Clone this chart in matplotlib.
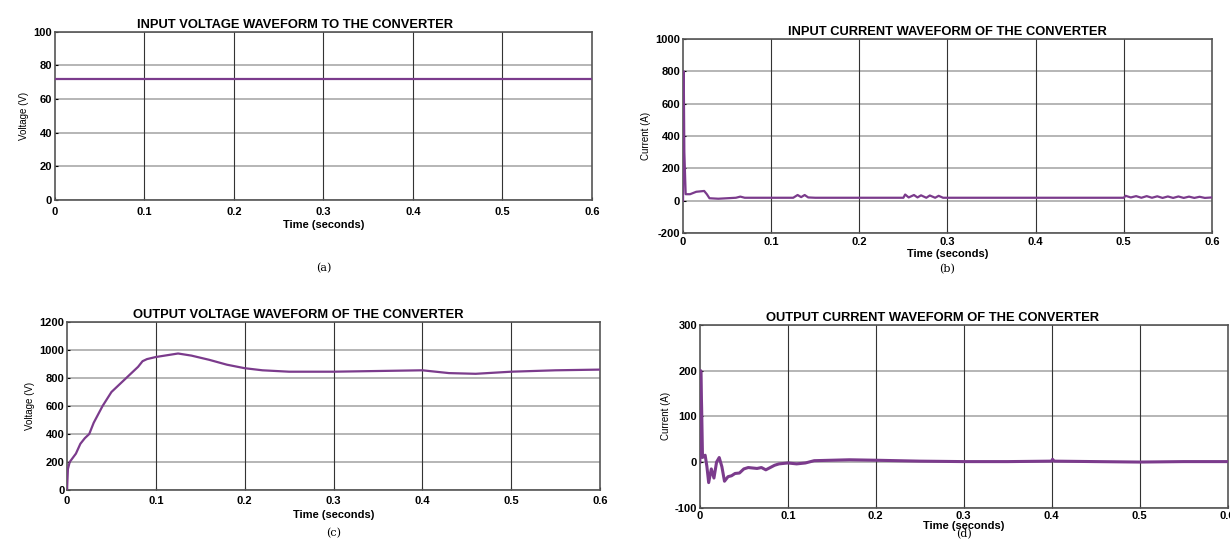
import numpy as np
import matplotlib
matplotlib.use("Agg")
import matplotlib.pyplot as plt

# input voltage (a)
vin_t = [0.0, 0.6]
vin_v = [72, 72]

# input current (b)
iin_t = [0.0, 0.0008, 0.0015, 0.003, 0.008, 0.015, 0.024, 0.027, 0.03, 0.04, 0.06, 0.065, 0.07,
         0.08, 0.125, 0.13, 0.134, 0.138, 0.142, 0.15, 0.25, 0.252, 0.256, 0.262, 0.266, 0.27,
         0.276, 0.28, 0.286, 0.29, 0.295, 0.5, 0.502, 0.508, 0.514, 0.52, 0.526, 0.532, 0.538,
         0.544, 0.55, 0.556, 0.562, 0.568, 0.574, 0.58, 0.586, 0.592, 0.6]
iin_v = [0, 800, 300, 40, 40, 55, 60, 40, 15, 12, 18, 25, 18,
         18, 18, 35, 22, 35, 20, 18, 18, 38, 20, 35, 20, 33, 18, 32, 18, 30, 18, 18, 30, 20, 28,
         18, 28, 18, 27, 17, 26, 17, 26, 17, 25, 17, 24, 17, 20]

# output voltage (c)
vout_t = [0.0, 0.001, 0.003, 0.01, 0.015, 0.02, 0.025, 0.03, 0.04, 0.05, 0.06, 0.07, 0.08,
          0.085, 0.09, 0.1, 0.11, 0.125, 0.14, 0.16, 0.18, 0.2, 0.22, 0.25, 0.3, 0.35, 0.4,
          0.43, 0.46, 0.5, 0.55, 0.6]
vout_v = [0, 150, 200, 260, 330, 370, 400, 480, 600, 700, 760, 820, 880,
          920, 935, 950, 960, 975, 960, 930, 895, 870, 855, 845, 845, 850, 855,
          835, 830, 845, 855, 860]

# output current (d)
iout_t = [0.0, 0.001, 0.002, 0.003, 0.006, 0.008, 0.01, 0.013, 0.016, 0.019, 0.022, 0.025,
          0.028, 0.032, 0.036, 0.04, 0.045, 0.05, 0.055, 0.06, 0.065, 0.07, 0.075, 0.08, 0.085,
          0.09, 0.1, 0.11, 0.12, 0.13, 0.15, 0.17, 0.2, 0.25, 0.3, 0.35, 0.4, 0.401, 0.403,
          0.45, 0.5, 0.55, 0.6]
iout_v = [0, 200, 120, 10, 15, -10, -45, -15, -35, 0, 10, -10,
          -42, -32, -30, -25, -24, -15, -12, -13, -14, -12, -17, -12, -7,
          -4, -2, -4, -2, 3, 4, 5, 4, 2, 1, 1, 2, 6, 2,
          1, 0, 1, 1]

line_color = "#7b3b8c"

plt.rcParams["font.family"] = "Liberation Sans"
plt.rcParams["axes.unicode_minus"] = False

fig = plt.figure(figsize=(12.3, 5.39), dpi=100)

panels = [
    # rect, t, y, ylim, yticks, title, title_x, ylabel, tag, tag_y, tick pad, label pad
    ([0.0447, 0.629, 0.4366, 0.312], vin_t, vin_v, (0, 100), np.arange(0, 101, 20),
     "INPUT VOLTAGE WAVEFORM TO THE CONVERTER", 0.447, "Voltage (V)", "(a)", 268, 5, 2),
    ([0.5553, 0.5677, 0.430, 0.36], iin_t, iin_v, (-200, 1000), np.arange(-200, 1001, 200),
     "INPUT CURRENT WAVEFORM OF THE CONVERTER", 0.5, "Current (A)", "(b)", 269, 3, 1),
    ([0.0545, 0.0909, 0.4333, 0.3117], vout_t, vout_v, (0, 1200), np.arange(0, 1201, 200),
     "OUTPUT VOLTAGE WAVEFORM OF THE CONVERTER", 0.433, "Voltage (V)", "(c)", 533, 4, 3),
    ([0.569, 0.058, 0.429, 0.339], iout_t, iout_v, (-100, 300), np.arange(-100, 301, 100),
     "OUTPUT CURRENT WAVEFORM OF THE CONVERTER", 0.44, "Current (A)", "(d)", 534, 2, 0),
]

for rect, t, y, ylim, yticks, title, title_x, ylabel, tag, tag_y, tpad, lpad in panels:
    ax = fig.add_axes(rect)
    lw = 2.2 if tag == "(d)" else 1.6
    ax.plot(t, y, color=line_color, linewidth=lw, zorder=3)
    ax.set_xlim(0, 0.6)
    ax.set_ylim(*ylim)
    ax.set_xticks([0, 0.1, 0.2, 0.3, 0.4, 0.5, 0.6])
    ax.set_xticklabels(["0", "0.1", "0.2", "0.3", "0.4", "0.5", "0.6"])
    ax.set_yticks(yticks)
    for yt in yticks:
        ax.axhline(yt, color="#b5b5b5", linewidth=1.4, zorder=1)
    for xt in [0.1, 0.2, 0.3, 0.4, 0.5]:
        ax.axvline(xt, color="#333333", linewidth=0.8, zorder=2)
    ax.tick_params(labelsize=8, length=2, direction="in")
    ax.tick_params(axis="x", pad=tpad)
    ax.tick_params(axis="y", pad=2)
    for lab in ax.get_xticklabels() + ax.get_yticklabels():
        lab.set_fontweight("bold")
    for s in ax.spines.values():
        s.set_linewidth(1.2)
        s.set_color("#555555")
    ax.set_title(title, fontsize=9.3, fontweight="bold", pad=3, x=title_x)
    ax.set_xlabel("Time (seconds)", fontsize=8, fontweight="bold", labelpad=lpad)
    ax.set_ylabel(ylabel, fontsize=7, labelpad=3)
    cx = rect[0] + rect[2] / 2
    fig.text(cx, 1 - tag_y / 539, tag, ha="center", va="center", fontsize=8,
             family="DejaVu Serif")

fig.savefig("out.png", dpi=100)
